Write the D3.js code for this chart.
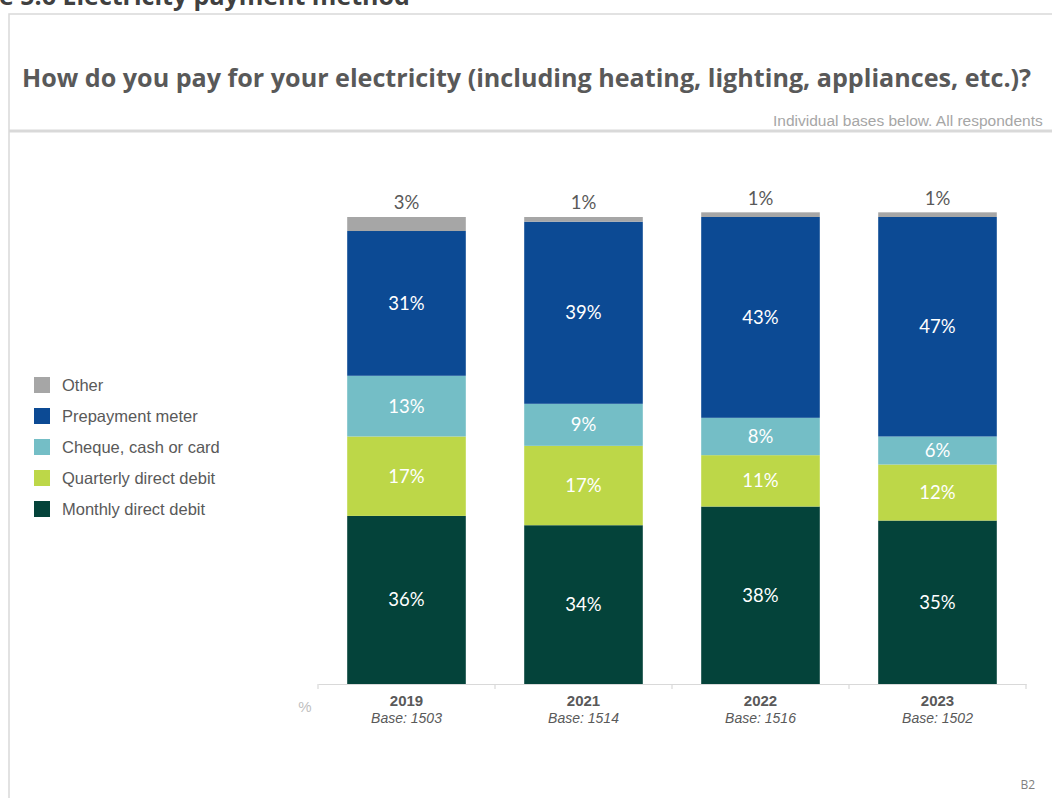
<!DOCTYPE html>
<html>
<head>
<meta charset="utf-8">
<script src="https://cdn.jsdelivr.net/npm/d3@7"></script>
<style>
  html, body { margin: 0; padding: 0; background: #fff; overflow: hidden; }
  svg { display: block; }
</style>
</head>
<body>
<svg id="chart" width="1052" height="798"></svg>
<script>
// Survey waves and their base sizes
const years = ["2019", "2021", "2022", "2023"];
const bases = [1503, 1514, 1516, 1502];

// Payment methods, stacked bottom to top
const methods = ["Monthly direct debit", "Quarterly direct debit", "Cheque, cash or card", "Prepayment meter", "Other"];
const colors = ["#04433A", "#BDD748", "#74BEC6", "#0C4A94", "#A6A6A6"];

// Share of respondents (%) per method, one value per year
const monthly    = [36, 34, 38, 35];
const quarterly  = [17, 17, 11, 12];
const cheque     = [13, 9, 8, 6];
const prepayment = [31, 39, 43, 47];
const other      = [3, 1, 1, 1];

// Legend order (top to bottom)
const legendOrder = ["Other", "Prepayment meter", "Cheque, cash or card", "Quarterly direct debit", "Monthly direct debit"];

const seriesValues = [monthly, quarterly, cheque, prepayment, other];
const rows = years.map((y, i) => {
  const r = { year: y, base: bases[i] };
  methods.forEach((m, k) => { r[m] = seriesValues[k][i]; });
  return r;
});

const svg = d3.select("#chart");
const textGrey = "#595959";
const frameGrey = "#D9D9D9";

// Page heading along the top edge
svg.append("text")
  .attr("x", -1).attr("y", 5)
  .attr("font-family", "'Open Sans', sans-serif")
  .attr("font-weight", "bold")
  .attr("font-size", 25)
  .attr("fill", "#404040")
  .text("e 5.6 Electricity payment method");

// Slide frame
svg.append("path")
  .attr("d", "M9,798 V14 H1052")
  .attr("fill", "none")
  .attr("stroke", frameGrey)
  .attr("stroke-width", 1.5);

// Question title
const q = svg.append("text")
  .attr("x", 22).attr("y", 87)
  .attr("font-family", "'Open Sans', sans-serif")
  .attr("font-weight", "bold")
  .attr("font-size", 24)
  .attr("fill", textGrey)
  .text("How do you pay for your electricity (including heating, lighting, appliances, etc.)?");
const qw = q.node().getComputedTextLength();
if (qw > 0) q.attr("font-size", 24 * 1010 / qw);

svg.append("text")
  .attr("x", 773).attr("y", 126)
  .attr("font-family", "'Liberation Sans', Arial, sans-serif")
  .attr("font-size", 15.5)
  .attr("fill", "#A6A6A6")
  .text("Individual bases below. All respondents");

svg.append("line")
  .attr("x1", 9).attr("x2", 1052)
  .attr("y1", 131).attr("y2", 131)
  .attr("stroke", frameGrey)
  .attr("stroke-width", 3);

// Scales
const x = d3.scaleBand()
  .domain(years)
  .range([318, 1026])
  .paddingInner(0.33)
  .paddingOuter(0.165);

const y = d3.scaleLinear()
  .domain([0, 100])
  .range([684, 217]);

const color = d3.scaleOrdinal().domain(methods).range(colors);

const stack = d3.stack().keys(methods);
const stacked = stack(rows);

// Bars
const layers = svg.append("g").selectAll("g")
  .data(stacked)
  .join("g")
  .attr("fill", d => color(d.key));

layers.selectAll("rect")
  .data(d => d.map(p => ({ p, key: d.key })))
  .join("rect")
  .attr("x", d => x(d.p.data.year))
  .attr("width", x.bandwidth())
  .attr("y", d => y(d.p[1]))
  .attr("height", d => y(d.p[0]) - y(d.p[1]));

// Value labels inside segments; "Other" sits above the bar
const valueFont = "Lato, 'Open Sans', sans-serif";
stacked.forEach(layer => {
  const isOther = layer.key === "Other";
  svg.append("g").selectAll("text")
    .data(layer)
    .join("text")
    .attr("x", d => x(d.data.year) + x.bandwidth() / 2)
    .attr("y", d => isOther ? y(d[1]) - 14 : (y(d[0]) + y(d[1])) / 2)
    .attr("dy", "0.35em")
    .attr("text-anchor", "middle")
    .attr("font-family", valueFont)
    .attr("font-size", 18.5)
    .attr("fill", isOther ? textGrey : "#ffffff")
    .text(d => (d[1] - d[0]) + "%");
});

// Category axis
const axis = d3.axisBottom(x).tickSize(0).tickFormat("");
const ax = svg.append("g").attr("transform", "translate(0,684)").call(axis);
ax.select(".domain").attr("stroke", frameGrey).attr("stroke-width", 1.2);

// Tick marks between categories
const bounds = [318].concat(years.map(yr => x(yr) + x.bandwidth() / 2 + x.step() / 2));
ax.selectAll(".sep")
  .data(bounds)
  .join("line")
  .attr("class", "sep")
  .attr("x1", d => d).attr("x2", d => d)
  .attr("y1", 0).attr("y2", 5)
  .attr("stroke", frameGrey)
  .attr("stroke-width", 1.2);

const labels = svg.append("g");
labels.selectAll(".yr")
  .data(rows)
  .join("text")
  .attr("class", "yr")
  .attr("x", d => x(d.year) + x.bandwidth() / 2)
  .attr("y", 706)
  .attr("text-anchor", "middle")
  .attr("font-family", "'Liberation Sans', Arial, sans-serif")
  .attr("font-weight", "bold")
  .attr("font-size", 15)
  .attr("fill", textGrey)
  .text(d => d.year);

labels.selectAll(".base")
  .data(rows)
  .join("text")
  .attr("class", "base")
  .attr("x", d => x(d.year) + x.bandwidth() / 2)
  .attr("y", 723)
  .attr("text-anchor", "middle")
  .attr("font-family", "'Liberation Sans', Arial, sans-serif")
  .attr("font-style", "italic")
  .attr("font-size", 14)
  .attr("fill", textGrey)
  .text(d => "Base: " + d.base);

svg.append("text")
  .attr("x", 305).attr("y", 712)
  .attr("text-anchor", "middle")
  .attr("font-family", "'Liberation Sans', Arial, sans-serif")
  .attr("font-size", 15)
  .attr("fill", "#BFBFBF")
  .text("%");

// Legend
const legend = svg.append("g").attr("transform", "translate(34,385)");
const items = legend.selectAll("g")
  .data(legendOrder)
  .join("g")
  .attr("transform", (d, i) => `translate(0,${i * 31})`);
items.append("rect")
  .attr("x", 0).attr("y", -8)
  .attr("width", 16).attr("height", 16)
  .attr("fill", d => color(d));
items.append("text")
  .attr("x", 28).attr("y", 0)
  .attr("dy", "0.35em")
  .attr("font-family", "'Liberation Sans', Arial, sans-serif")
  .attr("font-size", 16.5)
  .attr("fill", textGrey)
  .text(d => d);

// Slide reference
svg.append("text")
  .attr("x", 1035).attr("y", 789)
  .attr("text-anchor", "end")
  .attr("font-family", "'Open Sans', sans-serif")
  .attr("font-size", 12)
  .attr("fill", "#7F7F7F")
  .text("B2");
</script>
</body>
</html>
